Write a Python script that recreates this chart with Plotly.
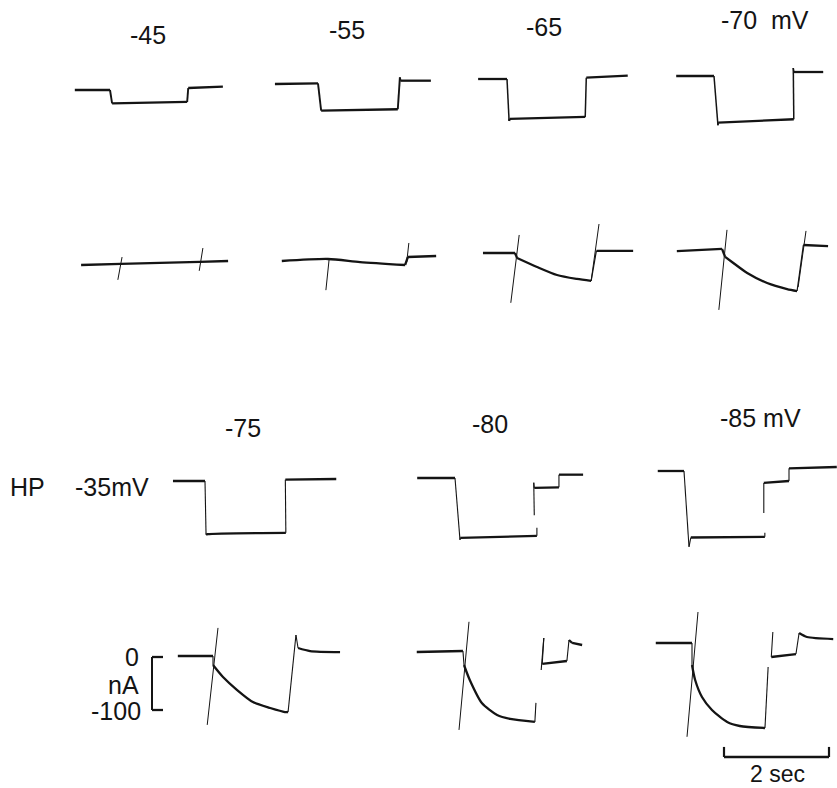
import math
import plotly.graph_objects as go

W, H = 837, 788
PX_PER_S = 52.5     # chart-recorder time base (px per second)
PX_PER_MV = 1.33    # voltage channel gain (px per mV)
PX_PER_NA = 0.53    # current channel gain (px per nA)
INK = "#141414"
FONT = "Liberation Sans, Arial, sans-serif"

HOLDING_MV = -35

# ---------------- voltage records: time from pulse onset (s), potential (mV) -------------
v45_t = [-0.67, 0.0, 0.04, 1.47, 1.49, 2.15]
v45_mv = [-35, -35, -45, -44, -33.5, -32.5]

v55_t = [-0.82, 0.0, 0.06, 1.52, 1.56, 1.57, 2.15]
v55_mv = [-35, -34.5, -55, -54, -30, -32.5, -32.5]

v65_t = [-0.55, 0.0, 0.04, 0.05, 1.49, 1.51, 2.30]
v65_mv = [-35, -35, -66.5, -65, -63.5, -34, -32.5]

v70_t = [-0.72, 0.0, 0.075, 0.08, 1.52, 1.51, 1.52, 2.08]
v70_mv = [-35, -35, -72, -70, -67.5, -29, -32, -32]

v75_t = [-0.61, 0.0, 0.02, 0.05, 1.54, 1.53, 2.50]
v75_mv = [-35, -35, -75.5, -75, -74, -34, -33.5]

v80_t = [-0.72, 0.0, 0.095, 0.10, 1.56, 1.56, None, 1.51, 1.50, 1.51, 1.98, 1.98, 2.44]
v80_mv = [-35, -35, -81.5, -80, -78.5, -72.5, None, -63, -38.5, -42.5, -42, -32.5, -32.5]

v85_t = [-0.50, 0.0, 0.095, 0.13, 1.54, 1.54, None, 1.52, 1.52, 2.0, 2.0, 2.91]
v85_mv = [-35, -35, -92, -85, -84.5, -81.5, None, -66.5, -44, -42.5, -33, -32]

# ---------------- current records: time from pulse onset (s), membrane current (nA) -------
i45_t = [-0.76, 0.0, 1.50, 2.04]
i45_na = [0, 2, 6, 7.5]
i45_cap_t = [-0.06, 0.02, None, 1.49, 1.56]
i45_cap_na = [-28, 15, None, -11, 32]

i55_t = [-0.88, 0.0, 0.61, 1.47, 1.52, 2.06]
i55_na = [0, 3.8, -2, -7.5, 7.5, 9.4]
i55_cap_t = [0.02, -0.04, None, 1.50, 1.54]
i55_cap_na = [2, -55, None, -2, 34]

i65_t = [-0.61, 0.0, 0.04, 0.42, 0.80, 1.18, 1.45, 1.55, 2.25]
i65_na = [0, 0, -9.4, -26.4, -41.5, -49, -52.8, 4, 4]
i65_cap_t = [-0.08, 0.08, None, 1.45, 1.60]
i65_cap_na = [-94, 34, None, -52.8, 54.7]

i70_t = [-0.86, 0.0, 0.06, 0.19, 0.48, 0.86, 1.24, 1.43, 1.55, 2.02]
i70_na = [-2, 2, -13, -22.6, -43.4, -62.3, -73.6, -77.4, 9.4, 7.5]
i70_cap_t = [-0.06, 0.095, None, 1.45, 1.60]
i70_cap_na = [-113, 38, None, -70, 36]

i75_t = [-0.67, 0.0, 0.0, 0.19, 0.46, 0.76, 1.09, 1.37, 1.43, 1.58, 1.62, 1.85, 2.42]
i75_na = [0, 0, -17, -39.6, -64.2, -86.8, -98.1, -105.7, -105.7, 39.6, 15.1, 9.4, 7.5]
i75_cap_t = [-0.11, 0.095]
i75_cap_na = [-130, 53]

i80_t = [-0.90, -0.02, 0.0, 0.11, 0.34, 0.63, 0.88, 1.35, 1.37,
         None, 1.47, 1.52, 1.49, 1.96, 2.0, 2.06, 2.25]
i80_na = [0, 1.9, -24.5, -52.8, -96.2, -118.9, -126.4, -132, -96,
          None, -34, 26.4, -22.6, -17, 22.6, 17, 13.2]
i80_cap_t = [-0.095, 0.095]
i80_cap_na = [-147, 57]

i85_t = [-0.69, 0.0, 0.0, 0.06, 0.19, 0.38, 0.67, 0.91, 1.39, 1.45,
         None, 1.54, 1.51, 1.98, 2.04, 2.19, 2.69]
i85_na = [0, 0, -41.5, -69.8, -101.9, -126.4, -149, -156.6, -160.4, -45.3,
          None, 20.8, -26.4, -20.8, 18.9, 11.3, 7.5]
i85_cap_t = [-0.095, 0.114]
i85_cap_na = [-177, 58.5]

# calibration marks
time_bar_s = [0, 0, 2, 2]
time_bar_na = [19, 0, 0, 19]
current_bar_s = [0.21, 0, 0, 0.21]
current_bar_na = [0, 0, -100, -100]

# labels
top_labels = ["-45", "-55", "-65", "-70\u00a0 mV"]
bottom_labels = ["-75", "-80", "-85\u00a0mV"]

# ---------------- layout: where each record's origin sits on the page (px) ----------------
# (x of t=0, y of reference level, reference value, px per unit, width of fast strokes)
records = [
    (v45_t, v45_mv, None, None, (110, 90, HOLDING_MV, PX_PER_MV, 1.9)),
    (v55_t, v55_mv, None, None, (318, 84, HOLDING_MV, PX_PER_MV, 1.9)),
    (v65_t, v65_mv, None, None, (507, 79, HOLDING_MV, PX_PER_MV, 1.5)),
    (v70_t, v70_mv, None, None, (714, 76, HOLDING_MV, PX_PER_MV, 1.5)),
    (i45_t, i45_na, i45_cap_t, i45_cap_na, (121, 265, 0, PX_PER_NA, 1.2)),
    (i55_t, i55_na, i55_cap_t, i55_cap_na, (328, 261, 0, PX_PER_NA, 1.2)),
    (i65_t, i65_na, i65_cap_t, i65_cap_na, (515, 253, 0, PX_PER_NA, 1.2)),
    (i70_t, i70_na, i70_cap_t, i70_cap_na, (722, 250, 0, PX_PER_NA, 1.2)),
    (v75_t, v75_mv, None, None, (205, 481, HOLDING_MV, PX_PER_MV, 1.1)),
    (v80_t, v80_mv, None, None, (455, 478, HOLDING_MV, PX_PER_MV, 1.1)),
    (v85_t, v85_mv, None, None, (684, 471, HOLDING_MV, PX_PER_MV, 1.1)),
    (i75_t, i75_na, i75_cap_t, i75_cap_na, (213, 656, 0, PX_PER_NA, 1.1)),
    (i80_t, i80_na, i80_cap_t, i80_cap_na, (464, 652, 0, PX_PER_NA, 1.1)),
    (i85_t, i85_na, i85_cap_t, i85_cap_na, (692, 643, 0, PX_PER_NA, 1.1)),
    (time_bar_s, time_bar_na, None, None, (724, 757, 0, PX_PER_NA, 2.2)),
    (current_bar_s, current_bar_na, None, None, (152, 657, 0, PX_PER_NA, 2.0)),
]

SLOW_W = 2.3


def split_strokes(t, y, sy, ratio=5.0, max_turn=25.0):
    """Separate slow pen movements (thick ink) from near-vertical fast strokes (thin ink).

    Slow movements are grouped into smooth runs; a run is broken wherever the
    pen direction turns sharply, so corners stay crisp.
    """
    slow_x, slow_y, fast_x, fast_y = [], [], [], []
    run = []
    last_dir = [None]

    def flush():
        if len(run) >= 2:
            slow_x.extend([p[0] for p in run] + [None])
            slow_y.extend([p[1] for p in run] + [None])
        run.clear()
        last_dir[0] = None

    for i in range(len(t) - 1):
        a = (t[i], y[i])
        b = (t[i + 1], y[i + 1])
        if None in a or None in b:
            flush()
            continue
        dx = (b[0] - a[0]) * PX_PER_S
        dy = (b[1] - a[1]) * sy
        if abs(dy) > ratio * abs(dx):
            flush()
            fast_x.extend([a[0], b[0], None])
            fast_y.extend([a[1], b[1], None])
            continue
        ang = math.degrees(math.atan2(dy, dx))
        if run and (run[-1] != a or
                    (last_dir[0] is not None and abs(ang - last_dir[0]) > max_turn)):
            flush()
        if not run:
            run.append(a)
        run.append(b)
        last_dir[0] = ang
    flush()
    return slow_x, slow_y, fast_x, fast_y


fig = go.Figure()
layout_axes = {}

for k, (t, y, ct, cy, (x0, y0, ref, sy, fast_w)) in enumerate(records, start=1):
    xname = "x" if k == 1 else f"x{k}"
    yname = "y" if k == 1 else f"y{k}"
    layout_axes["xaxis" if k == 1 else f"xaxis{k}"] = dict(
        domain=[0, 1], range=[-x0 / PX_PER_S, (W - x0) / PX_PER_S],
        visible=False, fixedrange=True, anchor=yname)
    layout_axes["yaxis" if k == 1 else f"yaxis{k}"] = dict(
        domain=[0, 1], range=[ref - (H - y0) / sy, ref + y0 / sy],
        visible=False, fixedrange=True, anchor=xname)

    sx_, sy_, fx_, fy_ = split_strokes(t, y, sy)
    if fx_:
        fig.add_trace(go.Scatter(x=fx_, y=fy_, xaxis=xname, yaxis=yname, mode="lines",
                                 line=dict(color=INK, width=fast_w), hoverinfo="skip"))
    if sx_:
        fig.add_trace(go.Scatter(x=sx_, y=sy_, xaxis=xname, yaxis=yname, mode="lines",
                                 line=dict(color=INK, width=SLOW_W, shape="spline", smoothing=0.7),
                                 hoverinfo="skip"))
    if ct is not None:
        fig.add_trace(go.Scatter(x=ct, y=cy, xaxis=xname, yaxis=yname, mode="lines",
                                 line=dict(color=INK, width=1.0), hoverinfo="skip"))


def px(x, y):
    return x / W, 1 - y / H


annotations = []
for text, (cx, cy) in zip(top_labels, [(148, 35), (347, 30), (544, 27), (765, 20)]):
    ax_, ay_ = px(cx, cy)
    annotations.append(dict(x=ax_, y=ay_, text=text, xanchor="center", yanchor="middle", size=25))
for text, (cx, cy) in zip(bottom_labels, [(243, 428), (490, 424), (760, 418)]):
    ax_, ay_ = px(cx, cy)
    annotations.append(dict(x=ax_, y=ay_, text=text, xanchor="center", yanchor="middle", size=25))

for text, (lx, ly), anc in [("HP", (8, 487), "left"), ("-35mV", (73, 487), "left"),
                            ("0", (141, 657), "right"), ("nA", (141, 685), "right"),
                            ("-100", (143, 711), "right")]:
    ax_, ay_ = px(lx, ly)
    annotations.append(dict(x=ax_, y=ay_, text=text, xanchor=anc, yanchor="middle", size=25))

ax_, ay_ = px(777, 774)
annotations.append(dict(x=ax_, y=ay_, text="2 sec", xanchor="center", yanchor="middle", size=23))

for a in annotations:
    size = a.pop("size")
    a.update(xref="paper", yref="paper", showarrow=False,
             font=dict(family=FONT, size=size, color=INK))

fig.update_layout(
    width=W, height=H, autosize=False,
    margin=dict(l=0, r=0, t=0, b=0, pad=0),
    paper_bgcolor="white", plot_bgcolor="rgba(0,0,0,0)",
    showlegend=False, annotations=annotations,
    **layout_axes,
)

fig.write_html("out.html", config={"displayModeBar": False, "staticPlot": True})
